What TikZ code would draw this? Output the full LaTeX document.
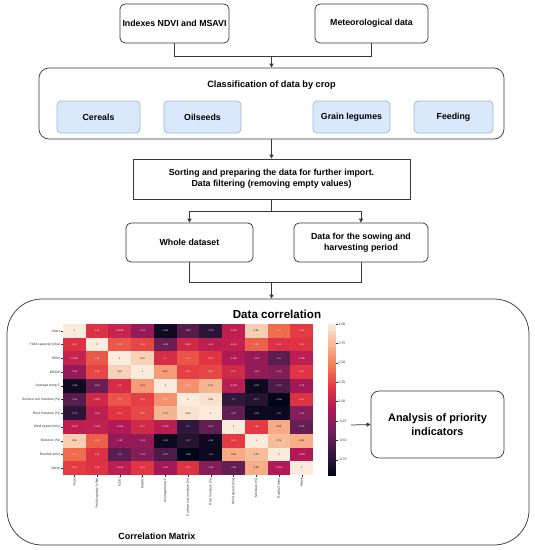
\documentclass[tikz,border=0pt]{standalone}
\usepackage{fontspec}
\setmainfont{Liberation Sans}
\usetikzlibrary{arrows.meta}
\definecolor{r0}{HTML}{03051A}
\definecolor{r1}{HTML}{35193E}
\definecolor{r2}{HTML}{701F57}
\definecolor{r3}{HTML}{AD1759}
\definecolor{r4}{HTML}{E13342}
\definecolor{r5}{HTML}{F37651}
\definecolor{r6}{HTML}{F6B48F}
\definecolor{r7}{HTML}{FAEBDD}
\definecolor{lineg}{HTML}{3A3A3A}
\definecolor{cropfill}{HTML}{DAE8FC}
\definecolor{cropdraw}{HTML}{A3B5D1}
\definecolor{labg}{HTML}{333333}
\newcommand{\hmsetcolor}[1]{%
  \pgfmathsetmacro\hmT{max(0,min(6.9999,(#1+0.96)/1.96*7))}%
  \pgfmathtruncatemacro\hmS{floor(\hmT)}%
  \pgfmathtruncatemacro\hmN{\hmS+1}%
  \pgfmathsetmacro\hmF{(\hmT-\hmS)*100}%
  \colorlet{hc}{r\hmN!\hmF!r\hmS}%
  \pgfmathtruncatemacro\hmD{(#1>0.57)}%
  \ifnum\hmD=1 \colorlet{htc}{black}\else\colorlet{htc}{white}\fi
}
\tikzset{
  box/.style={draw=lineg, line width=0.75pt, rounded corners=5pt, fill=white,
    font=\bfseries\fontsize{8.8}{11}\selectfont, align=center, inner sep=0pt},
  sharpbox/.style={box, rounded corners=0pt},
  cropbox/.style={draw=cropdraw, line width=0.75pt, rounded corners=4pt, fill=cropfill,
    font=\bfseries\fontsize{8.8}{11}\selectfont, align=center, inner sep=0pt,
    minimum height=32pt},
  bigbox/.style={draw=lineg, line width=0.75pt, inner sep=0pt, fill=none},
  conn/.style={draw=lineg, line width=0.75pt},
  arr/.style={conn, -{Triangle[length=4pt,width=4pt]}},
  cellnum/.style={font=\fontsize{2.4}{2.8}\selectfont, inner sep=0pt},
  axlab/.style={font=\fontsize{3.4}{4}\selectfont, inner sep=0pt, text=labg},
}
\begin{document}
\begin{tikzpicture}[x=1pt,y=-1pt]
\useasboundingbox (0,0) rectangle (535,550);

% top boxes
\node[box, minimum width=109pt, minimum height=39pt] (ndvi) at (174.5,23.5) {Indexes NDVI and MSAVI};
\node[box, minimum width=113pt, minimum height=39pt] (met) at (371.5,23.5) {Meteorological data};

% classification
\node[bigbox, rounded corners=10pt, minimum width=465pt, minimum height=71pt] (crop) at (271.5,103.5) {};
\node[font=\bfseries\fontsize{9.2}{11}\selectfont, inner sep=0pt] (croptitle) at (271.5,85) {Classification of data by crop};
\node[cropbox, minimum width=83pt] (cereals) at (98.5,117) {Cereals};
\node[cropbox, minimum width=77pt] (oil) at (202.5,117) {Oilseeds};
\node[cropbox, minimum width=77pt] (leg) at (351.5,117) {Grain legumes};
\node[cropbox, minimum width=79pt] (feed) at (453.5,117) {Feeding};

% sorting
\node[sharpbox, minimum width=277pt, minimum height=40pt] (sort) at (271.5,179)
  {Sorting and preparing the data for further import.\\Data filtering (removing empty values)};

\node[box, minimum width=127pt, minimum height=39pt] (whole) at (189.5,242.5) {Whole dataset};
\node[box, minimum width=134pt, minimum height=39pt] (sow) at (361,242.5) {Data for the sowing and\\harvesting period};

% correlation big box
\node[bigbox, rounded corners=35pt, minimum width=522pt, minimum height=246pt] (corr) at (268,422) {};
\node[font=\bfseries\fontsize{11.6}{13}\selectfont, inner sep=0pt] (corrtitle) at (277,314) {Data correlation};
\node[font=\bfseries\fontsize{9}{11}\selectfont, inner sep=0pt] (cmtitle) at (157,536) {Correlation Matrix};

\node[box, rounded corners=8pt, minimum width=133pt, minimum height=67pt,
  font=\bfseries\fontsize{10.9}{13.5}\selectfont] (ana) at (437.5,424.5) {Analysis of priority\\indicators};

% connectors
\coordinate (j1) at (271.5,56);
\draw[conn] (ndvi.south) |- (j1);
\draw[conn] (met.south) |- (j1);
\draw[arr] (j1) -- (crop.north);
\draw[arr] (crop.south) -- (sort.north);
\coordinate (j2) at (271.5,211);
\draw[conn] (sort.south) -- (j2);
\draw[arr] (j2) -| (whole.north);
\draw[arr] (j2) -| (sow.north);
\coordinate (j3) at (271.5,282);
\draw[conn] (whole.south) |- (j3);
\draw[conn] (sow.south) |- (j3);
\draw[arr] (j3) -- (j3 |- corr.north);
\coordinate (cbout) at (351,425);
\draw[arr] (cbout) -- (ana.west);

% heatmap
\def\hx{63}\def\hy{324}\def\cw{22.73}\def\ch{13.73}
\foreach [count=\ri] \rowvals in {
 {1,0.14,0.0089,-0.23,-0.89,-0.52,-0.73,-0.025,0.85,0.4,0.19},
 {0.14,1,0.31,0.24,-0.43,0.062,-0.04,-0.015,0.35,0.13,0.15},
 {0.0089,0.31,1,0.87,0.1,0.3,0.16,-0.095,-0.22,-0.5,-0.039},
 {-0.23,0.24,0.87,1,0.61,0.21,0.25,0.07,-0.24,-0.31,0.17},
 {-0.89,-0.43,0.1,0.61,1,0.56,0.73,-0.058,-0.91,-0.57,-0.16},
 {-0.52,0.062,0.3,0.21,0.56,1,0.95,-0.7,-0.77,-0.96,0.14},
 {-0.73,-0.04,0.16,0.25,0.73,0.95,1,-0.47,-0.91,-0.9,-0.31},
 {-0.025,-0.015,-0.095,0.07,-0.058,-0.7,-0.47,1,0.19,0.68,-0.45},
 {0.85,0.35,-0.22,-0.24,-0.91,-0.77,-0.91,0.19,1,0.76,0.69},
 {0.4,0.13,-0.5,-0.31,-0.57,-0.96,-0.9,0.68,0.76,1,-0.093},
 {0.19,0.15,-0.039,0.17,-0.16,0.14,-0.31,-0.45,0.69,-0.093,1}}{
  \foreach [count=\ci] \hv in \rowvals {
    \hmsetcolor{\hv}
    \fill[hc] ({\hx+(\ci-1)*\cw},{\hy+(\ri-1)*\ch}) rectangle ++(\cw,\ch);
    \node[cellnum, text=htc] (c-\ri-\ci) at ({\hx+(\ci-0.5)*\cw},{\hy+(\ri-0.5)*\ch}) {\hv};
  }
}
\foreach [count=\li] \lab in {Years,{Yield capacity (c/ha)},NDVI,MSAVI,{Average temp C},{Surface soil moisture (\%)},{Root moisture (\%)},{Wind speed (m/s)},{Moisture (\%)},{Rainfall (mm)},Week}{
  \draw[labg, line width=0.3pt] ({\hx-1.8},{\hy+(\li-0.5)*\ch}) -- ({\hx},{\hy+(\li-0.5)*\ch});
  \node[axlab, anchor=east] (rl-\li) at ({\hx-2.6},{\hy+(\li-0.5)*\ch}) {\lab};
  \draw[labg, line width=0.3pt] ({\hx+(\li-0.5)*\cw},{\hy+11*\ch}) -- ({\hx+(\li-0.5)*\cw},{\hy+11*\ch+1.8});
  \node[axlab, anchor=east, rotate=90] (cl-\li) at ({\hx+(\li-0.5)*\cw},{\hy+11*\ch+2.8}) {\lab};
}

% colorbar
\def\cbx{328}\def\cby{324}\def\cbh{152}
\foreach \k in {0,...,79}{
  \pgfmathsetmacro\cbv{1-(\k+0.5)/80*1.96}
  \hmsetcolor{\cbv}
  \fill[hc] (\cbx,{\cby+\k*\cbh/80}) rectangle ({\cbx+8},{\cby+(\k+1)*\cbh/80+0.3});
}
\foreach \tv/\tl in {1/1.00,0.75/0.75,0.5/0.50,0.25/0.25,0/0.00,-0.25/-0.25,-0.5/-0.50,-0.75/-0.75}{
  \draw[labg, line width=0.3pt] ({\cbx+8},{\cby+(1-\tv)/1.96*\cbh}) -- ({\cbx+9.8},{\cby+(1-\tv)/1.96*\cbh});
  \node[axlab, anchor=west] (cb-\tl) at ({\cbx+10.5},{\cby+(1-\tv)/1.96*\cbh}) {\tl};
}
\end{tikzpicture}
\end{document}
